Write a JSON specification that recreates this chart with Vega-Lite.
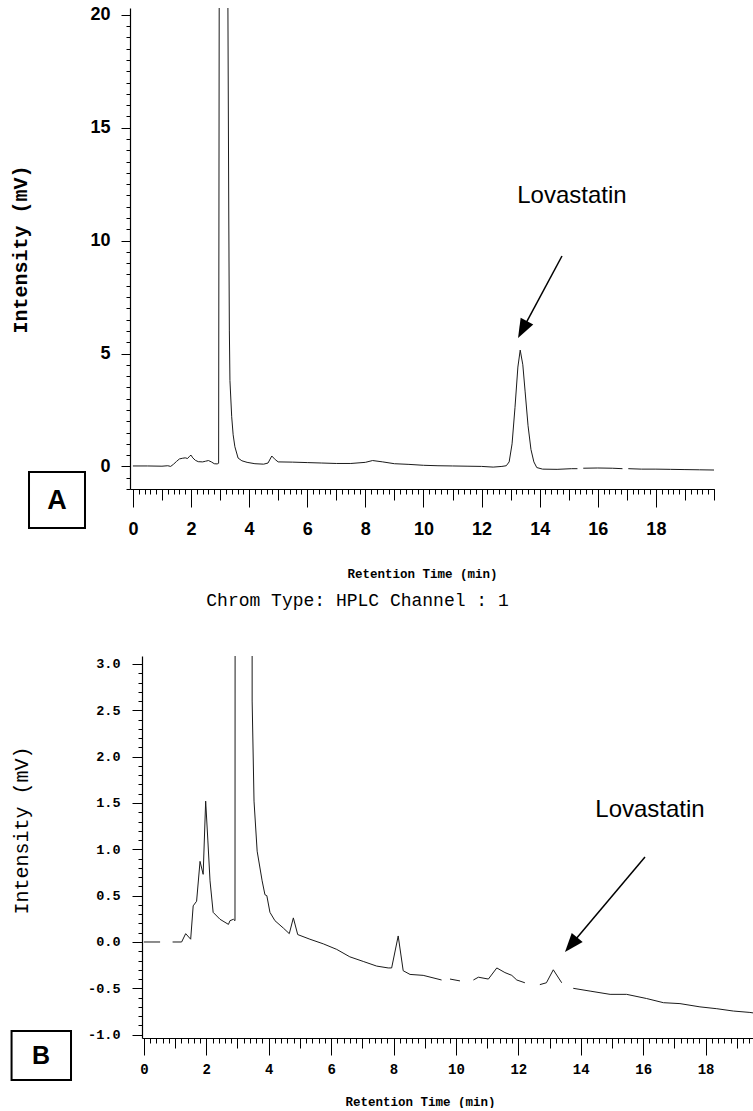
{
  "$schema": "https://vega.github.io/schema/vega-lite/v6.json",
  "background": "white",
  "padding": {"left": 10, "top": 5, "right": 0, "bottom": 0},
  "config": {
    "view": {"stroke": null},
    "axis": {"grid": false, "domainColor": "#000", "tickColor": "#000", "labelColor": "#000", "titleColor": "#000", "labelOverlap": false, "labelBound": false, "labelFlush": false}
  },
  "spacing": 12,
  "datasets": {
    "a": [{"t":0,"v":0.02},{"t":0.5,"v":0.02},{"t":1.0,"v":0.01},{"t":1.2,"v":0.03},{"t":1.3,"v":0.0},{"t":1.4,"v":0.1},{"t":1.5,"v":0.22},{"t":1.6,"v":0.33},{"t":1.7,"v":0.36},{"t":1.8,"v":0.38},{"t":1.88,"v":0.35},{"t":1.95,"v":0.45},{"t":2.0,"v":0.5},{"t":2.06,"v":0.38},{"t":2.15,"v":0.27},{"t":2.25,"v":0.21},{"t":2.4,"v":0.2},{"t":2.5,"v":0.23},{"t":2.6,"v":0.26},{"t":2.7,"v":0.2},{"t":2.8,"v":0.12},{"t":2.9,"v":0.11},{"t":2.95,"v":0.14},{"t":2.97,"v":20.3},{"t":2.98,"v":null},{"t":3.26,"v":null},{"t":3.27,"v":20.3},{"t":3.3,"v":11},{"t":3.32,"v":6},{"t":3.34,"v":3.8},{"t":3.4,"v":2.2},{"t":3.45,"v":1.4},{"t":3.51,"v":0.87},{"t":3.62,"v":0.37},{"t":3.75,"v":0.25},{"t":3.93,"v":0.18},{"t":4.2,"v":0.12},{"t":4.5,"v":0.1},{"t":4.65,"v":0.15},{"t":4.78,"v":0.46},{"t":4.9,"v":0.3},{"t":5.0,"v":0.2},{"t":5.5,"v":0.19},{"t":6.0,"v":0.17},{"t":6.5,"v":0.15},{"t":7.0,"v":0.13},{"t":7.5,"v":0.13},{"t":8.0,"v":0.18},{"t":8.25,"v":0.26},{"t":8.6,"v":0.2},{"t":9.0,"v":0.12},{"t":9.5,"v":0.09},{"t":10.0,"v":0.05},{"t":10.5,"v":0.03},{"t":11.0,"v":0.02},{"t":11.5,"v":0.01},{"t":12.0,"v":0.0},{"t":12.4,"v":-0.03},{"t":12.7,"v":0.0},{"t":12.85,"v":0.03},{"t":12.95,"v":0.2},{"t":13.05,"v":1.0},{"t":13.15,"v":2.6},{"t":13.25,"v":4.4},{"t":13.33,"v":5.15},{"t":13.42,"v":4.5},{"t":13.5,"v":3.3},{"t":13.6,"v":1.8},{"t":13.7,"v":0.75},{"t":13.8,"v":0.2},{"t":13.9,"v":-0.05},{"t":14.1,"v":-0.12},{"t":14.6,"v":-0.13},{"t":15.1,"v":-0.1},{"t":15.3,"v":-0.1},{"t":15.4,"v":null},{"t":15.5,"v":-0.08},{"t":16.0,"v":-0.07},{"t":16.5,"v":-0.08},{"t":16.85,"v":-0.1},{"t":16.95,"v":null},{"t":17.05,"v":-0.1},{"t":17.5,"v":-0.12},{"t":18.0,"v":-0.12},{"t":18.5,"v":-0.13},{"t":19.0,"v":-0.14},{"t":19.5,"v":-0.15},{"t":20.0,"v":-0.16}],
    "b": [{"t":0,"v":0.0},{"t":0.52,"v":0.0},{"t":0.7,"v":null},{"t":0.92,"v":0.0},{"t":1.21,"v":0.0},{"t":1.34,"v":0.09},{"t":1.5,"v":0.03},{"t":1.58,"v":0.39},{"t":1.69,"v":0.44},{"t":1.8,"v":0.87},{"t":1.9,"v":0.73},{"t":1.98,"v":1.52},{"t":2.05,"v":1.1},{"t":2.12,"v":0.66},{"t":2.22,"v":0.32},{"t":2.44,"v":0.245},{"t":2.71,"v":0.19},{"t":2.76,"v":0.23},{"t":2.87,"v":0.245},{"t":2.92,"v":0.23},{"t":2.93,"v":8},{"t":3.46,"v":8},{"t":3.47,"v":2.6},{"t":3.53,"v":1.52},{"t":3.63,"v":0.98},{"t":3.79,"v":0.66},{"t":3.88,"v":0.51},{"t":3.94,"v":0.5},{"t":4.04,"v":0.32},{"t":4.2,"v":0.23},{"t":4.47,"v":0.15},{"t":4.66,"v":0.09},{"t":4.79,"v":0.26},{"t":4.93,"v":0.08},{"t":5.32,"v":0.03},{"t":5.75,"v":-0.02},{"t":6.18,"v":-0.08},{"t":6.6,"v":-0.16},{"t":7.03,"v":-0.21},{"t":7.46,"v":-0.26},{"t":7.83,"v":-0.28},{"t":7.94,"v":-0.28},{"t":8.15,"v":0.065},{"t":8.31,"v":-0.31},{"t":8.53,"v":-0.35},{"t":8.95,"v":-0.36},{"t":9.54,"v":-0.41},{"t":9.65,"v":null},{"t":9.81,"v":-0.4},{"t":10.13,"v":-0.42},{"t":10.3,"v":null},{"t":10.56,"v":-0.41},{"t":10.72,"v":-0.38},{"t":11.04,"v":-0.4},{"t":11.31,"v":-0.28},{"t":11.57,"v":-0.33},{"t":11.79,"v":-0.36},{"t":11.95,"v":-0.41},{"t":12.21,"v":-0.44},{"t":12.45,"v":null},{"t":12.69,"v":-0.46},{"t":12.9,"v":-0.44},{"t":13.12,"v":-0.3},{"t":13.39,"v":-0.44},{"t":13.55,"v":null},{"t":13.76,"v":-0.5},{"t":14.3,"v":-0.53},{"t":14.94,"v":-0.565},{"t":15.47,"v":-0.565},{"t":16.11,"v":-0.61},{"t":16.65,"v":-0.655},{"t":17.18,"v":-0.665},{"t":17.82,"v":-0.7},{"t":18.36,"v":-0.72},{"t":18.89,"v":-0.745},{"t":19.42,"v":-0.76},{"t":19.52,"v":-0.765}]
  },
  "vconcat": [
    {
      "width": 572,
      "height": 481,
      "layer": [
        {
          "data": {"name": "a"},
          "mark": {"type": "line", "clip": false, "color": "#1a1a1a", "strokeWidth": 1, "invalid": "break-paths-show-domains"},
          "encoding": {
            "x": {"field": "t", "type": "quantitative", "scale": {"domain": [-0.1, 20], "range": [-12, 572], "nice": false, "zero": false},
              "axis": {"orient": "bottom", "values": [0,2,4,6,8,10,12,14,16,18], "tickSize": 18, "tickWidth": 1, "domainWidth": 1.2, "labelPadding": 13,
                "labelFont": "Liberation Sans", "labelFontSize": 18, "labelFontWeight": "bold",
                "title": "Retention Time (min)", "titleFont": "Liberation Mono", "titleFontSize": 12.5, "titleFontWeight": "bold", "titleX": 280, "titleY": 78, "titleBaseline": "top"}},
            "y": {"field": "v", "type": "quantitative", "scale": {"domain": [-1, 20.3], "nice": false, "zero": false},
              "axis": {"orient": "left", "offset": 12, "values": [0,5,10,15,20], "tickSize": 9, "tickWidth": 1, "domainWidth": 1.2, "labelPadding": 11,
                "labelFont": "Liberation Sans", "labelFontSize": 18, "labelFontWeight": "bold",
                "title": "Intensity (mV)", "titleFont": "Liberation Mono", "titleFontSize": 20, "titleFontWeight": "bold", "titleX": -100, "titleY": 241, "titleAngle": -90, "titleAlign": "center", "titleBaseline": "bottom"}}
          }
        },
        {
          "data": {"values": [{}]},
          "mark": {"type": "point", "opacity": 0},
          "encoding": {
            "x": {"datum": 5, "type": "quantitative", "axis": {"orient": "bottom", "values": [0,0.2,0.4,0.6,0.8,1,1.2,1.4,1.6,1.8,2,2.2,2.4,2.6,2.8,3,3.2,3.4,3.6,3.8,4,4.2,4.4,4.6,4.8,5,5.2,5.4,5.6,5.8,6,6.2,6.4,6.6,6.8,7,7.2,7.4,7.6,7.8,8,8.2,8.4,8.6,8.8,9,9.2,9.4,9.6,9.8,10,10.2,10.4,10.6,10.8,11,11.2,11.4,11.6,11.8,12,12.2,12.4,12.6,12.8,13,13.2,13.4,13.6,13.8,14,14.2,14.4,14.6,14.8,15,15.2,15.4,15.6,15.8,16,16.2,16.4,16.6,16.8,17,17.2,17.4,17.6,17.8,18,18.2,18.4,18.6,18.8,19,19.2,19.4,19.6,19.8,20], "tickSize": 5, "labels": false, "domain": false, "title": null}},
            "y": {"datum": 5, "type": "quantitative", "axis": {"orient": "left", "offset": 12, "values": [-1,-0.5,0,0.5,1,1.5,2,2.5,3,3.5,4,4.5,5,5.5,6,6.5,7,7.5,8,8.5,9,9.5,10,10.5,11,11.5,12,12.5,13,13.5,14,14.5,15,15.5,16,16.5,17,17.5,18,18.5,19,19.5,20], "tickSize": 4, "labels": false, "domain": false, "title": null}}
          }
        },
        {
          "data": {"values": [{}]},
          "mark": {"type": "point", "opacity": 0},
          "encoding": {
            "x": {"datum": 5, "type": "quantitative", "axis": {"orient": "bottom", "values": [1,3,5,7,9,11,13,15,17,19,20], "tickSize": 11, "labels": false, "domain": false, "title": null}},
            "y": {"datum": 5, "type": "quantitative", "axis": null}
          }
        },
        {
          "data": {"values": [{}]},
          "mark": {"type": "rect", "fill": null, "stroke": "#000", "strokeWidth": 2},
          "encoding": {
            "x": {"datum": -3.576, "type": "quantitative", "axis": null},
            "x2": {"datum": -1.649},
            "y": {"datum": -0.247, "type": "quantitative", "axis": null},
            "y2": {"datum": -2.726}
          }
        },
        {
          "data": {"values": [{}]},
          "mark": {"type": "text", "text": "A", "font": "Liberation Sans", "fontSize": 27, "fontWeight": "bold", "align": "center", "baseline": "middle", "dy": 1, "color": "#000"},
          "encoding": {
            "x": {"datum": -2.61, "type": "quantitative", "axis": null},
            "y": {"datum": -1.486, "type": "quantitative", "axis": null}
          }
        },
        {
          "data": {"values": [{}]},
          "mark": {"type": "text", "text": "Lovastatin", "font": "Liberation Sans", "fontSize": 24, "align": "center", "baseline": "middle", "color": "#000"},
          "encoding": {
            "x": {"datum": 15.11, "type": "quantitative", "axis": null},
            "y": {"datum": 11.975, "type": "quantitative", "axis": null}
          }
        },
        {
          "data": {"values": [{}]},
          "mark": {"type": "rule", "color": "#000", "strokeWidth": 1.5},
          "encoding": {
            "x": {"datum": 14.768, "type": "quantitative", "axis": null},
            "y": {"datum": 9.318, "type": "quantitative", "axis": null},
            "x2": {"datum": 13.409},
            "y2": {"datum": 6.059}
          }
        },
        {
          "data": {"values": [{}]},
          "mark": {"type": "point", "shape": "M0,-1L-0.75,1L0.75,1Z", "size": 361, "filled": true, "color": "#000", "opacity": 1, "angle": 208, "strokeWidth": 0},
          "encoding": {
            "x": {"datum": 13.409, "type": "quantitative", "axis": null},
            "y": {"datum": 6.059, "type": "quantitative", "axis": null}
          }
        }
      ],
      "resolve": {"axis": {"x": "independent", "y": "independent"}}
    },
    {
      "width": 611,
      "height": 382,
      "title": {"text": "Chrom Type: HPLC Channel : 1", "font": "Liberation Mono", "fontSize": 18, "fontWeight": "normal", "color": "#000", "anchor": "middle", "dx": -90, "offset": 28, "baseline": "bottom"},
      "layer": [
        {
          "data": {"name": "b"},
          "mark": {"type": "line", "clip": true, "color": "#1a1a1a", "strokeWidth": 1, "invalid": "break-paths-show-domains"},
          "encoding": {
            "x": {"field": "t", "type": "quantitative", "scale": {"domain": [-0.06, 19.52], "nice": false, "zero": false},
              "axis": {"orient": "bottom", "values": [0,2,4,6,8,10,12,14,16,18], "tickSize": 17, "tickWidth": 1, "domainWidth": 1.2, "labelPadding": 7,
                "labelFont": "Liberation Mono", "labelFontSize": 14, "labelFontWeight": "bold",
                "title": "Retention Time (min)", "titleFont": "Liberation Mono", "titleFontSize": 12.5, "titleFontWeight": "bold", "titleX": 278, "titleY": 57, "titleBaseline": "top"}},
            "y": {"field": "v", "type": "quantitative", "scale": {"domain": [-1.036, 3.086], "nice": false, "zero": false},
              "axis": {"orient": "left", "values": [-1,-0.5,0,0.5,1,1.5,2,2.5,3], "labelExpr": "replace(format(datum.value, '.1f'), '\u2212', '-')", "tickSize": 10, "tickWidth": 1, "domainWidth": 1.2, "labelPadding": 12,
                "labelFont": "Liberation Mono", "labelFontSize": 13.5, "labelFontWeight": "bold",
                "title": "Intensity (mV)", "titleFont": "Liberation Mono", "titleFontSize": 20, "titleFontWeight": "normal", "titleX": -111, "titleY": 174, "titleAngle": -90, "titleAlign": "center", "titleBaseline": "bottom"}}
          }
        },
        {
          "data": {"values": [{}]},
          "mark": {"type": "point", "opacity": 0},
          "encoding": {
            "x": {"datum": 5, "type": "quantitative", "axis": {"orient": "bottom", "values": [0,0.2,0.4,0.6,0.8,1,1.2,1.4,1.6,1.8,2,2.2,2.4,2.6,2.8,3,3.2,3.4,3.6,3.8,4,4.2,4.4,4.6,4.8,5,5.2,5.4,5.6,5.8,6,6.2,6.4,6.6,6.8,7,7.2,7.4,7.6,7.8,8,8.2,8.4,8.6,8.8,9,9.2,9.4,9.6,9.8,10,10.2,10.4,10.6,10.8,11,11.2,11.4,11.6,11.8,12,12.2,12.4,12.6,12.8,13,13.2,13.4,13.6,13.8,14,14.2,14.4,14.6,14.8,15,15.2,15.4,15.6,15.8,16,16.2,16.4,16.6,16.8,17,17.2,17.4,17.6,17.8,18,18.2,18.4,18.6,18.8,19,19.2,19.4], "tickSize": 5, "labels": false, "domain": false, "title": null}},
            "y": {"datum": 1, "type": "quantitative", "axis": {"orient": "left", "values": [-1,-0.9,-0.8,-0.7,-0.6,-0.5,-0.4,-0.3,-0.2,-0.1,0,0.1,0.2,0.3,0.4,0.5,0.6,0.7,0.8,0.9,1,1.1,1.2,1.3,1.4,1.5,1.6,1.7,1.8,1.9,2,2.1,2.2,2.3,2.4,2.5,2.6,2.7,2.8,2.9,3], "tickSize": 4, "labels": false, "domain": false, "title": null}}
          }
        },
        {
          "data": {"values": [{}]},
          "mark": {"type": "point", "opacity": 0},
          "encoding": {
            "x": {"datum": 5, "type": "quantitative", "axis": {"orient": "bottom", "values": [1,3,5,7,9,11,13,15,17,19], "tickSize": 10, "labels": false, "domain": false, "title": null}},
            "y": {"datum": 1, "type": "quantitative", "axis": null}
          }
        },
        {
          "data": {"values": [{}]},
          "mark": {"type": "rect", "fill": null, "stroke": "#000", "strokeWidth": 2},
          "encoding": {
            "x": {"datum": -4.24, "type": "quantitative", "axis": null},
            "x2": {"datum": -2.335},
            "y": {"datum": -0.961, "type": "quantitative", "axis": null},
            "y2": {"datum": -1.489}
          }
        },
        {
          "data": {"values": [{}]},
          "mark": {"type": "text", "text": "B", "font": "Liberation Sans", "fontSize": 25, "fontWeight": "bold", "align": "center", "baseline": "middle", "dy": 1, "color": "#000"},
          "encoding": {
            "x": {"datum": -3.297, "type": "quantitative", "axis": null},
            "y": {"datum": -1.22, "type": "quantitative", "axis": null}
          }
        },
        {
          "data": {"values": [{}]},
          "mark": {"type": "text", "text": "Lovastatin", "font": "Liberation Sans", "fontSize": 24, "align": "center", "baseline": "middle", "color": "#000"},
          "encoding": {
            "x": {"datum": 16.219, "type": "quantitative", "axis": null},
            "y": {"datum": 1.424, "type": "quantitative", "axis": null}
          }
        },
        {
          "data": {"values": [{}]},
          "mark": {"type": "rule", "color": "#000", "strokeWidth": 1.5},
          "encoding": {
            "x": {"datum": 16.059, "type": "quantitative", "axis": null},
            "y": {"datum": 0.917, "type": "quantitative", "axis": null},
            "x2": {"datum": 13.691},
            "y2": {"datum": -0.03}
          }
        },
        {
          "data": {"values": [{}]},
          "mark": {"type": "point", "shape": "M0,-1L-0.75,1L0.75,1Z", "size": 361, "filled": true, "color": "#000", "opacity": 1, "angle": 220, "strokeWidth": 0},
          "encoding": {
            "x": {"datum": 13.691, "type": "quantitative", "axis": null},
            "y": {"datum": -0.03, "type": "quantitative", "axis": null}
          }
        }
      ],
      "resolve": {"axis": {"x": "independent", "y": "independent"}}
    }
  ]
}
